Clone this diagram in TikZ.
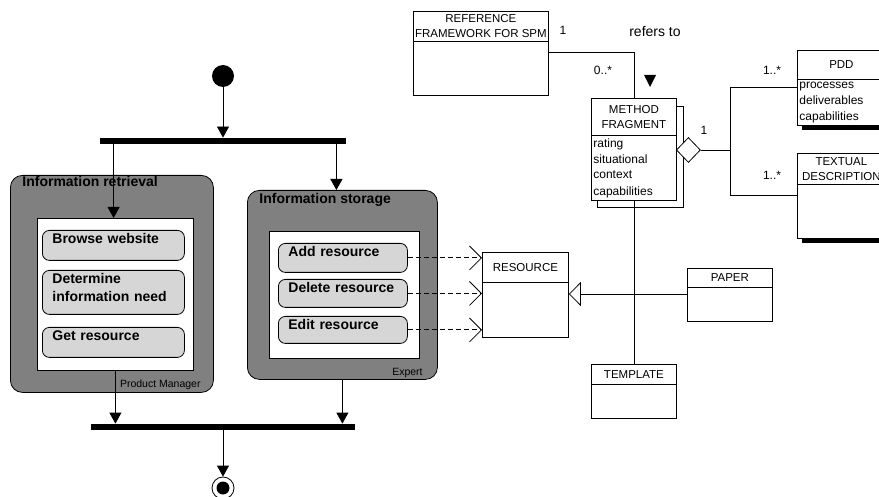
\documentclass[tikz,border=0pt]{standalone}
\usepackage{fontspec}
\setmainfont{Liberation Sans}
\usetikzlibrary{positioning,shapes.geometric,arrows.meta}

\definecolor{lanegray}{RGB}{128,128,128}
\definecolor{actgray}{RGB}{214,214,214}

\begin{document}
\begin{tikzpicture}[x=1pt, y=-1pt,
    line width=0.8pt,
    >={Triangle[length=11pt,width=12pt]},
    lane/.style={%
      rectangle, rounded corners=12pt, draw=black, fill=lanegray,
      anchor=north west
    },
    inbox/.style={rectangle, draw=black, fill=white, anchor=north west},
    lanelbl/.style={font=\fontsize{14}{16}\selectfont\bfseries, inner sep=0pt},
    role/.style={font=\fontsize{10.5}{12}\selectfont, inner sep=0pt},
    act/.style={%
      rectangle, rounded corners=7pt, draw=black, fill=actgray,
      anchor=north west, align=left, inner xsep=10pt, inner ysep=2pt,
      text height=11pt, font=\fontsize{14}{18}\selectfont\bfseries
    },
    bar/.style={rectangle, fill=black, inner sep=0pt, minimum height=6pt},
    clshead/.style={%
      rectangle, draw=black, fill=white, anchor=north west,
      align=center, inner sep=1pt, font=\fontsize{11.5}{15}\selectfont
    },
    clsbody/.style={%
      rectangle, draw=black, fill=white, anchor=north west,
      align=left, inner xsep=2pt, inner ysep=1pt,
      font=\fontsize{12}{16}\selectfont
    },
    mult/.style={font=\fontsize{12}{14}\selectfont, inner sep=1pt},
    dep/.style={dash pattern=on 5pt off 3pt, -{Straight Barb[length=12pt,width=24pt]}},
    gen/.style={-{Triangle[open, length=12pt, width=24pt, fill=white]}}
]
    \useasboundingbox (0,0) rectangle (879,497);
    \clip (0,0) rectangle (879,497);

    % activity diagram
    \node[fill, circle, minimum size=22pt, inner sep=0pt] (start) at (223,76) {};
    \node[bar, minimum width=246pt] (fork) at (223,141) {};
    \node[bar, minimum width=264pt] (join) at (223,427) {};
    \node[circle, draw, minimum size=22pt, inner sep=0pt,
      path picture={\fill (path picture bounding box.center) circle (6.5pt);}]
      (final) at (223,488) {};

    \node[lane, minimum width=203pt, minimum height=217pt] (retr) at (10,175) {};
    \node[lane, minimum width=190pt, minimum height=189pt] (stor) at (247,190) {};
    \node[inbox, minimum width=156pt, minimum height=152pt] (retrin) at (37,218) {};
    \node[inbox, minimum width=150pt, minimum height=127pt] (storin) at (269,231) {};

    \node[lanelbl, anchor=base west] (retrlbl) at (22,187) {Information retrieval};
    \node[lanelbl, anchor=base west] (storlbl) at (259,204) {Information storage};
    \node[role, anchor=base east] (pm) at (201,387) {Product Manager};
    \node[role, anchor=base east] (expert) at (423,375) {Expert};

    \node[act, text width=122pt, text depth=15pt] (browse) at (42,230) {Browse website};
    \node[act, text width=122pt, text depth=29pt] (determine) at (42,270) {Determine\\information need};
    \node[act, text width=122pt, text depth=15pt] (getres) at (42,327) {Get resource};
    \node[act, text width=109pt, text depth=14pt] (addres) at (278,243) {Add resource};
    \node[act, text width=109pt, text depth=13pt] (delres) at (278,279) {Delete resource};
    \node[act, text width=109pt, text depth=12pt] (editres) at (278,316) {Edit resource};

    \draw[->] (start) -- (fork.north);
    \draw[->] ([xshift=14pt]fork.south west) -- ([xshift=14pt]fork.south west |- retrin.north);
    \draw[->] ([xshift=-10pt]fork.south east) -- ([xshift=-10pt]fork.south east |- stor.north);
    \draw[->] (retrin.south) -- (retrin.south |- join.north);
    \draw[->] (stor.south) -- (stor.south |- join.north);
    \draw[->] (join.south) -- (final.north);

    % class diagram
    \node[clshead, minimum width=135pt, minimum height=30pt] (ref) at (413,11) {REFERENCE\\FRAMEWORK FOR SPM};
    \node[clsbody, minimum width=135pt, minimum height=54pt] (refbody) at (413,41) {};

    \draw[fill=white] (597,106) rectangle (683,207);
    \node[clshead, minimum width=85pt, minimum height=37pt] (mf) at (591,98) {METHOD\\FRAGMENT};
    \node[clsbody, text width=81pt, minimum height=65pt] (mfbody) at (591,135) {rating\\situational\\context\\capabilities};

    \fill (802,125) rectangle (890,130);
    \node[clshead, minimum width=88pt, minimum height=29pt] (pdd) at (797,50) {PDD};
    \node[clsbody, text width=84pt, minimum height=46pt] (pddbody) at (797,79) {processes\\deliverables\\capabilities};

    \fill (802,238) rectangle (890,243);
    \node[clshead, minimum width=88pt, minimum height=31pt] (txt) at (797,153) {TEXTUAL\\DESCRIPTION};
    \node[clsbody, minimum width=88pt, minimum height=54pt] (txtbody) at (797,184) {};

    \node[clshead, minimum width=86pt, minimum height=30pt] (res) at (482,252) {RESOURCE};
    \node[clsbody, minimum width=86pt, minimum height=55pt] (resbody) at (482,282) {};
    \node[clshead, minimum width=85pt, minimum height=19pt] (paper) at (687,268) {PAPER};
    \node[clsbody, minimum width=85pt, minimum height=34pt] (paperbody) at (687,287) {};
    \node[clshead, minimum width=85pt, minimum height=20pt] (tmpl) at (591,364) {TEMPLATE};
    \node[clsbody, minimum width=85pt, minimum height=34pt] (tmplbody) at (591,384) {};

    \node[diamond, draw, fill=white, minimum width=24pt, minimum height=25pt,
      inner sep=0pt, anchor=west] (agg) at (676,150) {};
    \coordinate (split) at (730,150);

    \draw ([yshift=-11pt]refbody.north east) -| (mf.north);
    \draw (agg.east) -- (split);
    \draw (split) |- ([yshift=-8pt]pddbody.north west);
    \draw (split) |- ([yshift=-11pt]txtbody.north west);
    \draw (mfbody.south) -- (tmpl.north);
    \draw[gen] ([yshift=-7pt]paperbody.north west) -- ([yshift=-7pt]paperbody.north west -| resbody.east);

    \foreach \a in {addres, delres, editres}
      \draw[dep] (\a.east) -- (\a.east -| res.west);

    \fill (644,75) -- (656,75) -- (650,87) -- cycle;
    \node[mult] (m1) at (563,30) {1};
    \node[font=\fontsize{14}{16}\selectfont, inner sep=1pt] (refto) at (655,32) {refers to};
    \node[mult] (m2) at (603,70) {0..*};
    \node[mult] (m3) at (704,130) {1};
    \node[mult] (m4) at (772,70) {1..*};
    \node[mult] (m5) at (772,175) {1..*};

\end{tikzpicture}
\end{document}
